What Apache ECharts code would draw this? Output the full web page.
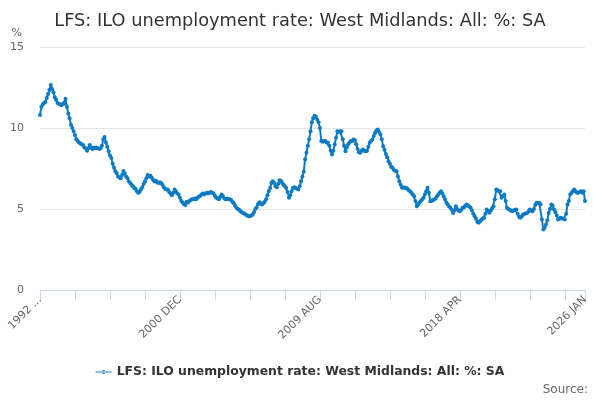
<!DOCTYPE html>
<html>
<head>
<meta charset="utf-8">
<script src="https://cdn.jsdelivr.net/npm/echarts@6/dist/echarts.min.js"></script>
<style>
  html, body { margin: 0; padding: 0; background: #fff; }
  #container { width: 600px; height: 400px; }
</style>
</head>
<body>
<div id="container"></div>
<script>
// 月份和年份，用来拼出分类标签
var months = ["JAN", "FEB", "MAR", "APR", "MAY", "JUN", "JUL", "AUG", "SEP", "OCT", "NOV", "DEC"];
var firstYear = 1992, firstMonth = 3; // 1992 APR
var lastYear = 2026, lastMonth = 0;   // 2026 JAN

// 数值（从图上读出来的，按年分行）
var v1992 = [10.8, 11.3, 11.45, 11.55, 11.6, 11.85, 12.1, 12.35, 12.65];
var v1993 = [12.4, 12.2, 11.9, 11.75, 11.55, 11.5, 11.45, 11.4, 11.5, 11.5, 11.8, 11.3];
var v1994 = [10.9, 10.6, 10.2, 10.0, 9.8, 9.55, 9.3, 9.2, 9.1, 9.05, 9.0, 8.95];
var v1995 = [8.8, 8.75, 8.6, 8.75, 8.95, 8.8, 8.7, 8.8, 8.75, 8.8, 8.75, 8.7];
var v1996 = [8.75, 8.9, 9.3, 9.45, 9.1, 8.85, 8.57, 8.3, 8.15, 7.8, 7.55, 7.33];
var v1997 = [7.2, 7.0, 6.95, 6.9, 7.1, 7.35, 7.2, 7.0, 6.9, 6.72, 6.6, 6.5];
var v1998 = [6.4, 6.3, 6.25, 6.1, 6.0, 6.05, 6.2, 6.35, 6.55, 6.7, 6.9, 7.1];
var v1999 = [7.0, 7.05, 6.95, 6.8, 6.7, 6.75, 6.65, 6.6, 6.65, 6.6, 6.5, 6.35];
var v2000 = [6.25, 6.2, 6.2, 6.05, 5.95, 5.85, 6.0, 6.2, 6.1, 5.95, 5.9, 5.7];
var v2001 = [5.5, 5.4, 5.3, 5.25, 5.45, 5.4, 5.5, 5.55, 5.6, 5.6, 5.65, 5.6];
var v2002 = [5.7, 5.75, 5.8, 5.9, 5.95, 5.9, 5.95, 6.0, 5.95, 6.0, 6.05, 6.0];
var v2003 = [5.95, 5.8, 5.7, 5.65, 5.6, 5.75, 5.9, 5.8, 5.65, 5.6, 5.65, 5.6];
var v2004 = [5.6, 5.55, 5.45, 5.35, 5.2, 5.07, 5.0, 4.95, 4.86, 4.8, 4.75, 4.7];
var v2005 = [4.65, 4.6, 4.56, 4.55, 4.6, 4.65, 4.8, 5.0, 5.1, 5.3, 5.42, 5.35];
var v2006 = [5.28, 5.35, 5.45, 5.6, 5.85, 6.1, 6.3, 6.62, 6.72, 6.6, 6.4, 6.35];
var v2007 = [6.55, 6.78, 6.75, 6.6, 6.5, 6.4, 6.3, 6.05, 5.7, 5.85, 6.1, 6.3];
var v2008 = [6.35, 6.3, 6.25, 6.2, 6.4, 6.72, 7.0, 7.3, 8.06, 8.47, 8.9, 9.3];
var v2009 = [9.8, 10.35, 10.6, 10.75, 10.7, 10.52, 10.35, 10.0, 9.2, 9.15, 9.2, 9.19];
var v2010 = [9.1, 9.09, 8.9, 8.6, 8.36, 8.6, 8.98, 9.4, 9.8, 9.75, 9.8, 9.8];
var v2011 = [9.3, 8.9, 8.57, 8.8, 9.0, 9.1, 9.19, 9.2, 9.29, 9.25, 9.0, 8.7];
var v2012 = [8.5, 8.47, 8.6, 8.67, 8.6, 8.57, 8.6, 8.85, 9.09, 9.2, 9.29, 9.5];
var v2013 = [9.7, 9.85, 9.9, 9.75, 9.6, 9.3, 8.88, 8.65, 8.4, 8.2, 7.95, 7.8];
var v2014 = [7.6, 7.54, 7.4, 7.35, 7.33, 7.0, 6.72, 6.5, 6.31, 6.35, 6.3, 6.31];
var v2015 = [6.25, 6.15, 6.1, 6.0, 5.9, 5.79, 5.5, 5.17, 5.3, 5.4, 5.5, 5.59];
var v2016 = [5.7, 5.9, 6.1, 6.31, 6.0, 5.48, 5.5, 5.55, 5.59, 5.65, 5.79, 5.9];
var v2017 = [6.0, 6.1, 5.95, 5.79, 5.6, 5.4, 5.28, 5.15, 5.07, 4.95, 4.75, 4.9];
var v2018 = [5.17, 5.0, 4.9, 4.86, 4.95, 5.07, 5.1, 5.2, 5.28, 5.2, 5.15, 5.07];
var v2019 = [4.9, 4.7, 4.56, 4.4, 4.2, 4.15, 4.25, 4.35, 4.4, 4.46, 4.7, 4.97];
var v2020 = [4.85, 4.77, 4.9, 5.05, 5.17, 5.6, 6.2, 6.15, 6.1, 6.1, 5.7, 5.8];
var v2021 = [5.9, 5.5, 5.07, 5.0, 4.95, 4.9, 4.86, 4.9, 4.95, 4.97, 4.7, 4.5];
var v2022 = [4.46, 4.55, 4.66, 4.7, 4.72, 4.76, 4.85, 4.97, 4.9, 4.86, 5.0, 5.25];
var v2023 = [5.38, 5.35, 5.38, 5.3, 4.35, 3.73, 3.85, 4.04, 4.3, 4.76, 5.0, 5.28];
var v2024 = [5.2, 4.97, 4.8, 4.6, 4.35, 4.4, 4.46, 4.42, 4.4, 4.35, 4.7, 5.28];
var v2025 = [5.5, 5.9, 6.0, 6.1, 6.2, 6.1, 6.0, 6.0, 6.05, 6.1, 6.0, 6.1];
var v2026 = [5.5];

var yTicks = [0, 5, 10, 15];
var seriesName = "LFS: ILO unemployment rate: West Midlands: All: %: SA";

var values = [].concat(v1992, v1993, v1994, v1995, v1996, v1997, v1998, v1999,
  v2000, v2001, v2002, v2003, v2004, v2005, v2006, v2007, v2008, v2009,
  v2010, v2011, v2012, v2013, v2014, v2015, v2016, v2017, v2018, v2019,
  v2020, v2021, v2022, v2023, v2024, v2025, v2026);

var categories = [];
for (var y = firstYear; y <= lastYear; y++) {
  for (var m = 0; m < 12; m++) {
    if (y === firstYear && m < firstMonth) continue;
    if (y === lastYear && m > lastMonth) break;
    categories.push(y + " " + months[m]);
  }
}
var lastIdx = categories.length - 1;

var myChart = echarts.init(document.getElementById("container"));
var font = "DejaVu Sans";

var option = {
  animation: false,
  textStyle: { fontFamily: font },
  title: {
    text: "LFS: ILO unemployment rate: West Midlands: All: %: SA",
    left: "center",
    top: 7,
    textStyle: { color: "#333333", fontSize: 17.8, fontWeight: "normal", fontFamily: font }
  },
  legend: {
    bottom: 17,
    left: "center",
    itemWidth: 16,
    itemHeight: 8,
    itemGap: 10,
    icon: "path://M0,3.5 L16,3.5 L16,4.5 L0,4.5 Z M6,4 A2,2 0 1 0 10,4 A2,2 0 1 0 6,4 Z",
    textStyle: { color: "#333333", fontSize: 12.4, fontWeight: "bold", fontFamily: font },
    data: [seriesName]
  },
  graphic: [
    {
      type: "text",
      right: 12,
      bottom: 4,
      style: { text: "Source:", fill: "#666666", font: "12px " + font }
    }
  ],
  grid: { left: 40, right: 15, top: 47, bottom: 110 },
  xAxis: {
    type: "category",
    data: categories,
    boundaryGap: false,
    axisLine: { lineStyle: { color: "#ccd6eb" } },
    axisTick: {
      length: 10,
      lineStyle: { color: "#ccd6eb" },
      interval: function (i) { return i % 26 === 0 || i === lastIdx; }
    },
    axisLabel: {
      rotate: 45,
      color: "#666666",
      fontSize: 11,
      margin: 8,
      interval: function (i) { return i % 104 === 0 || i === lastIdx; },
      formatter: function (val, i) { return i === 0 ? "1992 ..." : val; }
    }
  },
  yAxis: {
    type: "value",
    min: yTicks[0],
    max: yTicks[yTicks.length - 1],
    interval: 5,
    name: "%",
    nameLocation: "end",
    nameGap: 8,
    nameTextStyle: { color: "#666666", fontSize: 11, align: "right", padding: [0, 18, 0, 0] },
    axisLine: { show: false },
    axisTick: { show: false },
    axisLabel: { color: "#666666", fontSize: 11, margin: 16 },
    splitLine: { lineStyle: { color: "#e6e6e6", width: 1 } }
  },
  series: [
    {
      name: seriesName,
      type: "line",
      data: values,
      symbol: "circle",
      symbolSize: 4,
      showAllSymbol: true,
      itemStyle: { color: "#0c7bc4" },
      lineStyle: { width: 2, color: "#0c7bc4" }
    }
  ]
};

myChart.setOption(option);
</script>
</body>
</html>
